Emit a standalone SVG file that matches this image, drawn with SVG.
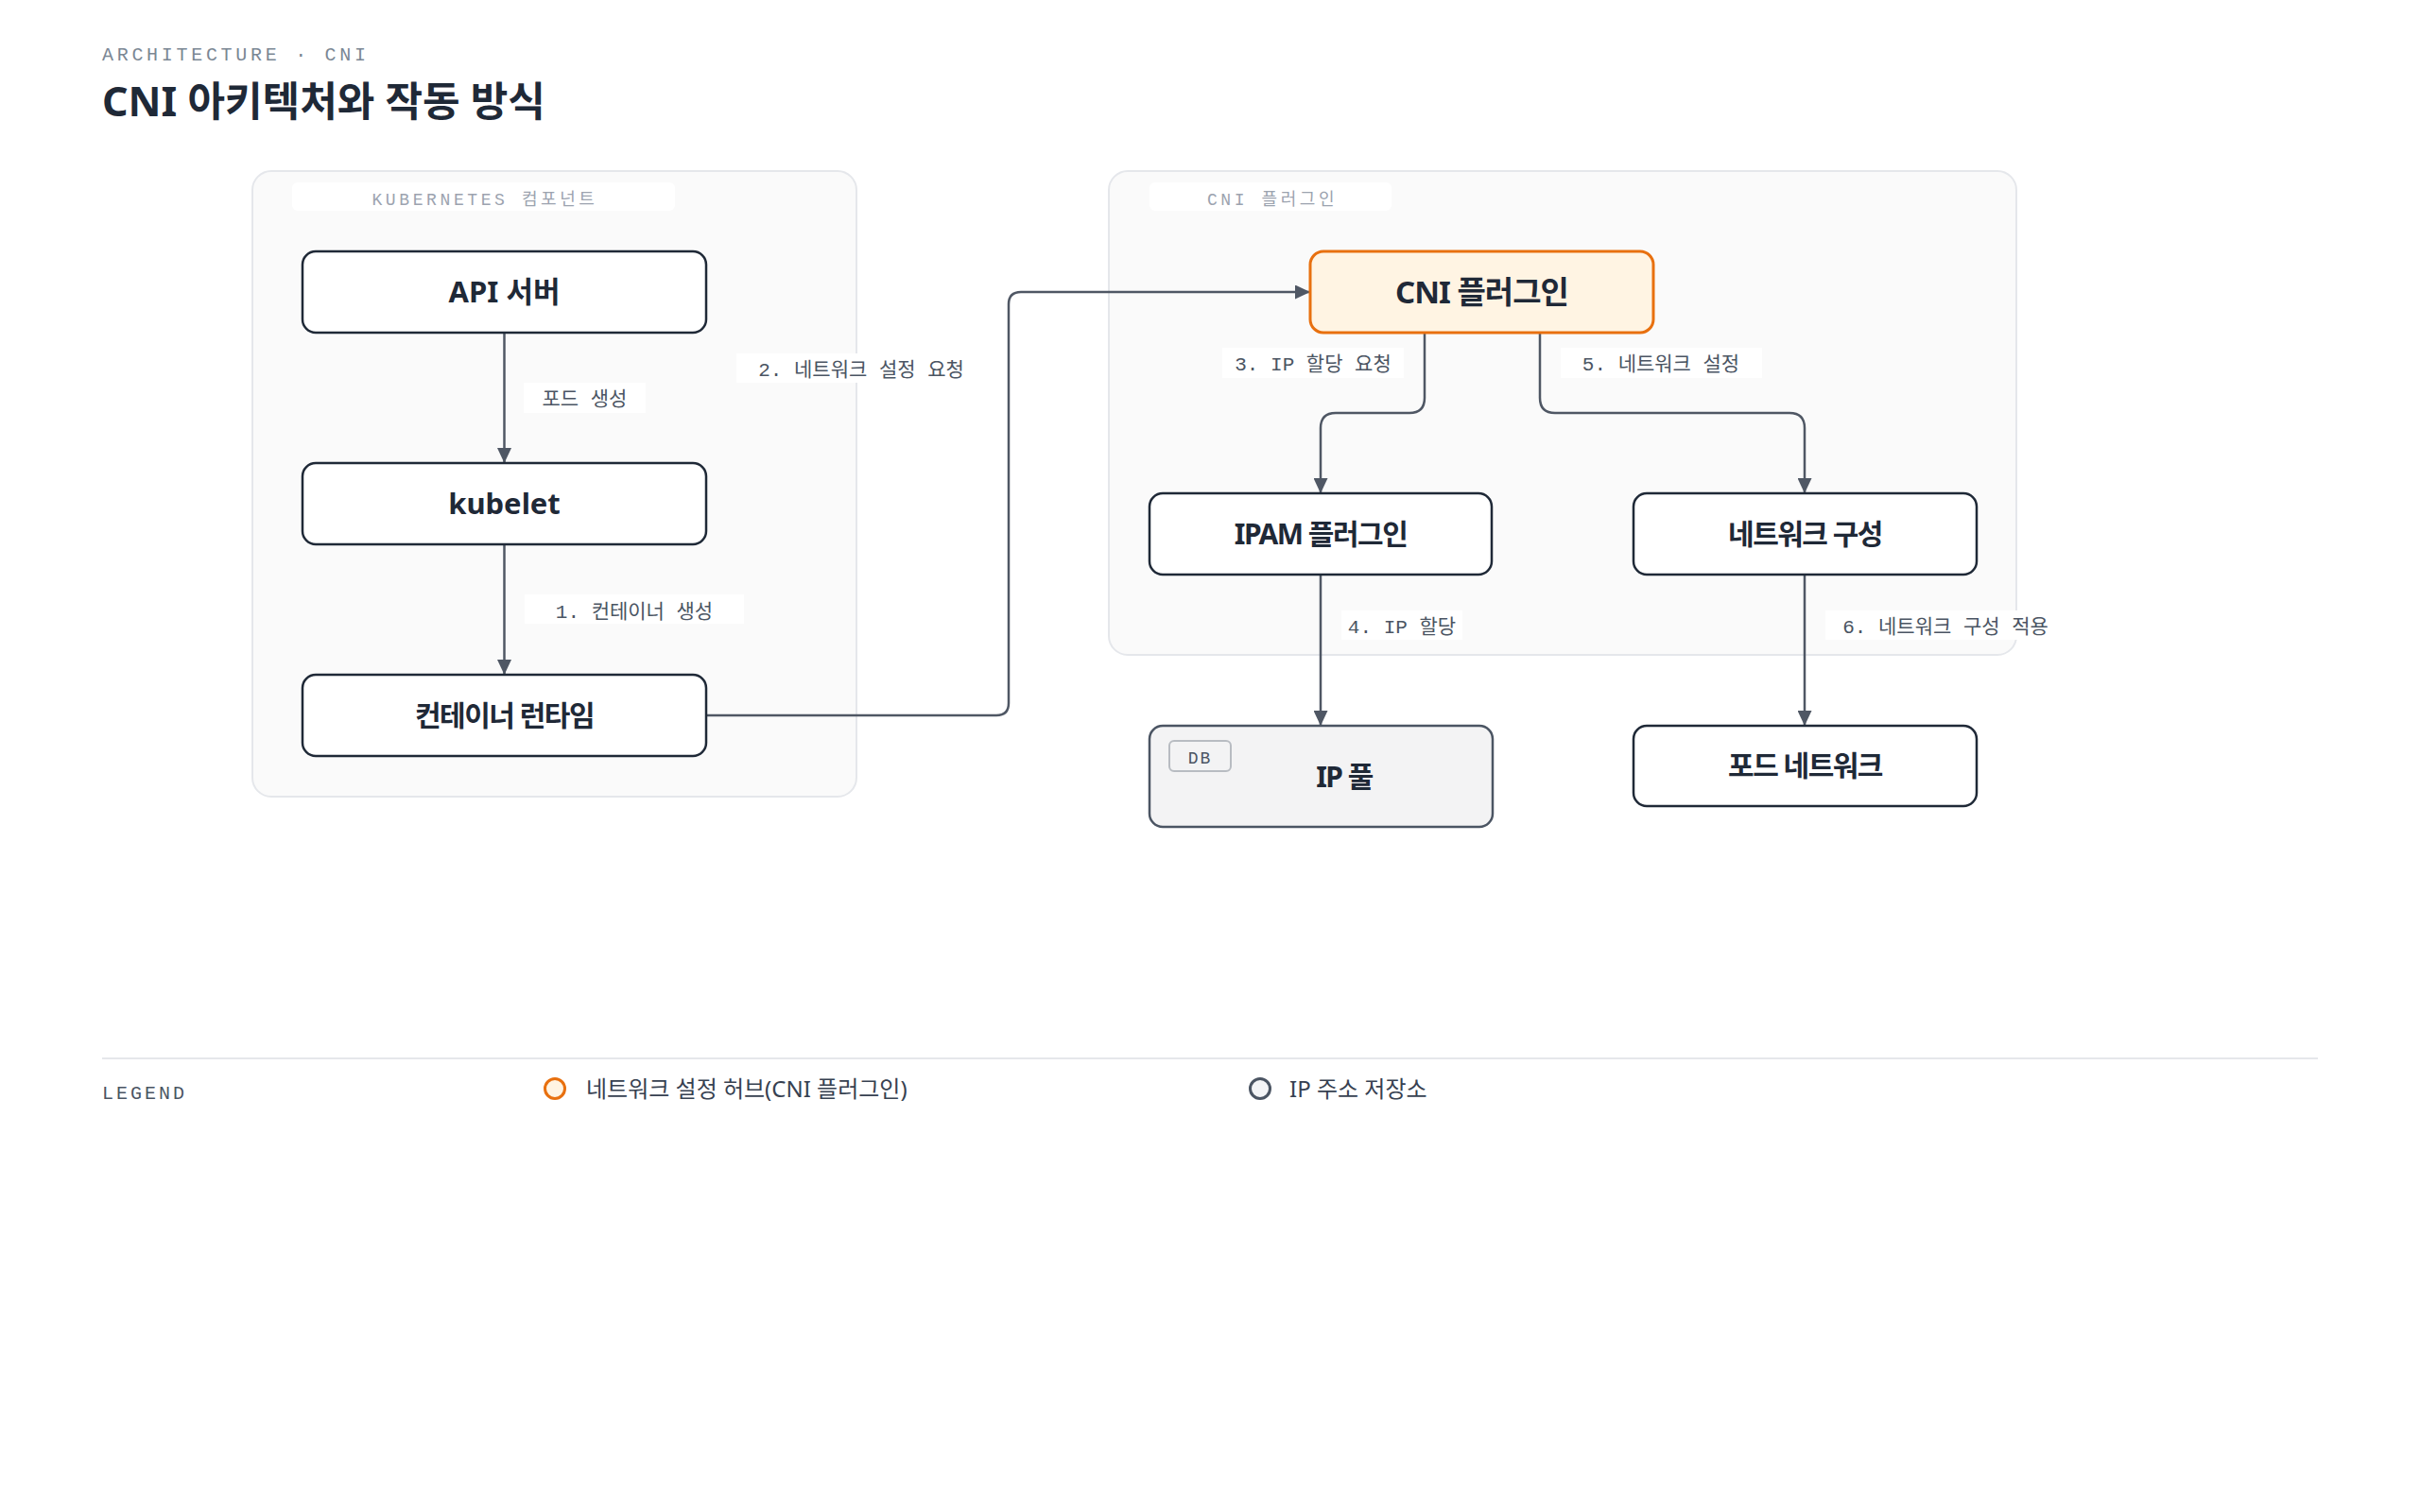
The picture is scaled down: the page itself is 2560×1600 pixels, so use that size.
<svg xmlns="http://www.w3.org/2000/svg" width="2560" height="1600" viewBox="0 0 2560 1600">
<defs>
<style>
.bg{fill:#ffffff}
.grp{fill:#fafafa;stroke:#e5e7eb;stroke-width:2}
.band{fill:#ffffff}
.glabel{font-family:"Liberation Mono","Noto Sans CJK KR",monospace;font-size:18px;letter-spacing:3.6px;fill:#9ca3af;text-anchor:middle}
.node{fill:#ffffff;stroke:#1f2937;stroke-width:2.5}
.hub{fill:#fff4e3;stroke:#e8700f;stroke-width:3}
.db{fill:#f3f3f4;stroke:#4b5563;stroke-width:2.5}
.ntext{font-family:"Noto Sans","Noto Sans CJK KR",sans-serif;font-weight:700;font-size:30px;letter-spacing:-1.5px;fill:#1f2937;text-anchor:middle}
.wide{font-size:31px;letter-spacing:0}
.hubtext{font-size:33px;letter-spacing:-1px}
.edge{fill:none;stroke:#4f5764;stroke-width:2.5}
.elabel{font-family:"Liberation Mono","Noto Sans CJK KR",monospace;font-size:21px;fill:#4b5563;text-anchor:middle}
.eyebrow{font-family:"Liberation Mono","Noto Sans CJK KR",monospace;font-size:20px;letter-spacing:3.7px;fill:#7b8794}
.title{font-family:"Noto Sans","Noto Sans CJK KR",sans-serif;font-weight:700;font-size:43px;fill:#1f2937}
.ltext{font-family:"Noto Sans","Noto Sans CJK KR",sans-serif;font-size:24px;fill:#374151}
</style>
<marker id="arr" markerUnits="userSpaceOnUse" markerWidth="16" markerHeight="15" refX="16" refY="7.5" orient="auto">
<path d="M0,0 L16,7.5 L0,15 z" fill="#4f5764"/>
</marker>
</defs>
<rect class="bg" x="0" y="0" width="2560" height="1600"/>

<g id="header">
<text class="eyebrow" x="108" y="64">ARCHITECTURE · CNI</text>
<text class="title" x="108" y="123">CNI 아키텍처와 작동 방식</text>
</g>

<g id="group-kubernetes">
<rect class="grp" x="267" y="181" width="639" height="662" rx="20"/>
<rect class="band" x="309" y="193" width="405" height="30" rx="6"/>
<text class="glabel" x="513" y="217">KUBERNETES 컴포넌트</text>
</g>
<g id="group-cni">
<rect class="grp" x="1173" y="181" width="960" height="512" rx="20"/>
<rect class="band" x="1216" y="193" width="256" height="30" rx="6"/>
<text class="glabel" x="1346" y="217">CNI 플러그인</text>
</g>

<g id="connectors">
<path class="edge" d="M533.5 352 V490" marker-end="url(#arr)"/>
<path class="edge" d="M533.5 576 V714" marker-end="url(#arr)"/>
<path class="edge" d="M746 757 H1054 Q1067 757 1067 744 V322 Q1067 309 1080 309 H1386" marker-end="url(#arr)"/>
<path class="edge" d="M1507 352 V421 Q1507 437 1491 437 H1413 Q1397 437 1397 453 V522" marker-end="url(#arr)"/>
<path class="edge" d="M1629 352 V421 Q1629 437 1645 437 H1893 Q1909 437 1909 453 V522" marker-end="url(#arr)"/>
<path class="edge" d="M1397 608 V768" marker-end="url(#arr)"/>
<path class="edge" d="M1909 608 V768" marker-end="url(#arr)"/>
<g id="edge-labels">
<rect class="band" x="554" y="405" width="129" height="32"/>
<text class="elabel" x="618.5" y="429">포드 생성</text>
<rect class="band" x="555" y="629" width="232" height="31"/>
<text class="elabel" x="671" y="654">1. 컨테이너 생성</text>
<rect class="band" x="779" y="374" width="264" height="31"/>
<text class="elabel" x="911" y="398">2. 네트워크 설정 요청</text>
<rect class="band" x="1293" y="368" width="192" height="32"/>
<text class="elabel" x="1389" y="392">3. IP 할당 요청</text>
<rect class="band" x="1651" y="368" width="213" height="32"/>
<text class="elabel" x="1757" y="392">5. 네트워크 설정</text>
<rect class="band" x="1419" y="646" width="128" height="31"/>
<text class="elabel" x="1483" y="670">4. IP 할당</text>
<rect class="band" x="1931" y="646" width="255" height="31"/>
<text class="elabel" x="2058" y="670">6. 네트워크 구성 적용</text>
</g>
</g>

<g id="node-api">
<rect class="node" x="320" y="266" width="427" height="86" rx="14"/>
<text class="ntext wide" x="533.5" y="320">API 서버</text>
</g>
<g id="node-kubelet">
<rect class="node" x="320" y="490" width="427" height="86" rx="14"/>
<text class="ntext wide" x="533.5" y="544">kubelet</text>
</g>
<g id="node-runtime">
<rect class="node" x="320" y="714" width="427" height="86" rx="14"/>
<text class="ntext" x="533.5" y="768">컨테이너 런타임</text>
</g>
<g id="node-cni">
<rect class="hub" x="1386" y="266" width="363" height="86" rx="14"/>
<text class="ntext hubtext" x="1567.5" y="321">CNI 플러그인</text>
</g>
<g id="node-ipam">
<rect class="node" x="1216" y="522" width="362" height="86" rx="14"/>
<text class="ntext" x="1397" y="576">IPAM 플러그인</text>
</g>
<g id="node-netconf">
<rect class="node" x="1728" y="522" width="363" height="86" rx="14"/>
<text class="ntext" x="1909.5" y="576">네트워크 구성</text>
</g>
<g id="node-ippool">
<rect class="db" x="1216" y="768" width="363" height="107" rx="14"/>
<rect x="1237" y="784" width="65" height="32" rx="5" fill="none" stroke="#b8bcc2" stroke-width="2"/>
<text x="1269.5" y="808" font-family="Liberation Mono, monospace" font-size="18" letter-spacing="2" fill="#4b5563" text-anchor="middle">DB</text>
<text class="ntext" x="1422" y="833" letter-spacing="0">IP 풀</text>
</g>
<g id="node-podnet">
<rect class="node" x="1728" y="768" width="363" height="85" rx="14"/>
<text class="ntext" x="1909.5" y="821">포드 네트워크</text>
</g>

<g id="legend">
<line x1="108" y1="1120" x2="2452" y2="1120" stroke="#e5e7eb" stroke-width="2"/>
<text x="108" y="1163" font-family="Liberation Mono, monospace" font-size="20" letter-spacing="3" fill="#4b5563">LEGEND</text>
<circle cx="587" cy="1152" r="10.5" fill="#fff4e3" stroke="#e8700f" stroke-width="3"/>
<text class="ltext" x="620" y="1161">네트워크 설정 허브(CNI 플러그인)</text>
<circle cx="1333" cy="1152" r="10.5" fill="#f3f4f6" stroke="#4b5563" stroke-width="3"/>
<text class="ltext" x="1364" y="1161">IP 주소 저장소</text>
</g>
</svg>
